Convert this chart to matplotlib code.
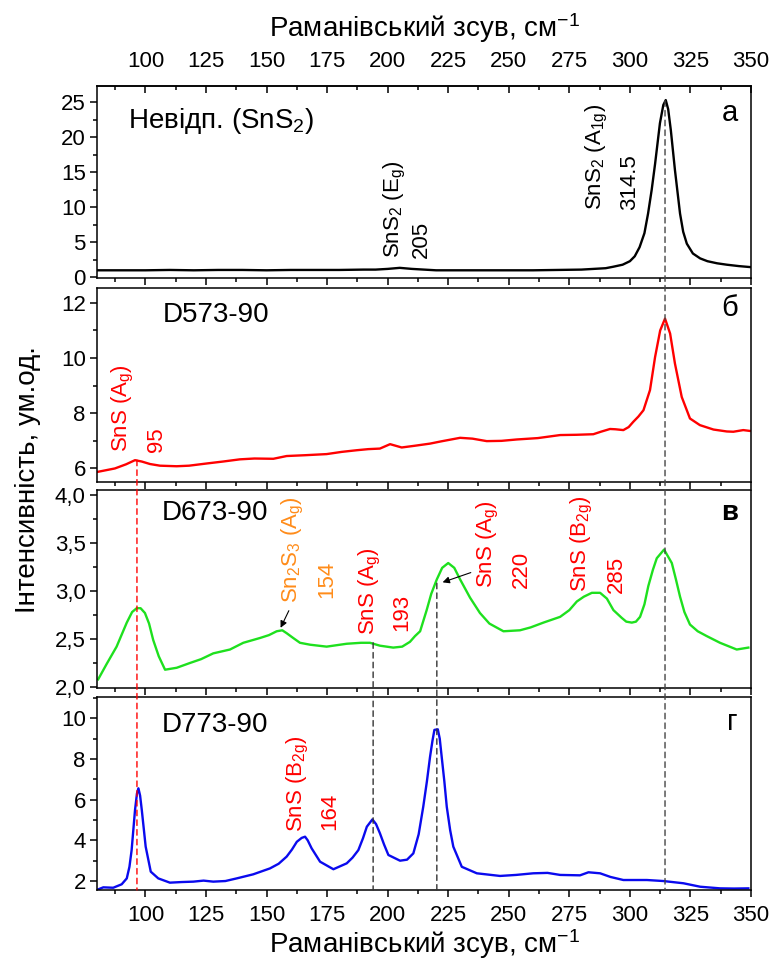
import matplotlib
matplotlib.use('Agg')
import matplotlib.pyplot as plt
from matplotlib.ticker import MultipleLocator, AutoMinorLocator, FuncFormatter
from matplotlib.patches import ConnectionPatch

plt.rcParams['font.family'] = ['Liberation Sans', 'DejaVu Sans']
plt.rcParams['mathtext.fontset'] = 'custom'
plt.rcParams['mathtext.rm'] = 'Liberation Sans'
plt.rcParams['mathtext.default'] = 'regular'

# --- дані ---
# а: невідпалений SnS2
x_a = [80, 90, 100, 110, 120, 130, 140, 150, 160, 170, 180, 190, 195, 200, 205, 210,
       215, 220, 230, 240, 250, 260, 270, 280, 285, 290, 293, 297, 300, 302, 304, 306,
       307.5, 309, 310.4, 312.4, 313.8, 314.8, 315.8, 316.9, 318.6, 320.7, 322, 323.5,
       326, 329, 332, 336, 340, 345, 350]
y_a = [1.0, 1.0, 1.0, 1.05, 1.0, 1.05, 1.05, 1.0, 1.05, 1.05, 1.05, 1.1, 1.1, 1.2, 1.35, 1.2,
       1.1, 1.0, 1.0, 1.0, 1.0, 1.0, 1.05, 1.1, 1.2, 1.3, 1.5, 1.8, 2.3, 3.0, 4.3, 6.3,
       9.1, 12.5, 16.2, 22.0, 24.6, 25.3, 24.0, 21.0, 15.3, 9.1, 6.5, 4.8,
       3.4, 2.7, 2.3, 2.0, 1.8, 1.6, 1.45]

# б: D573-90
x_b = [80.5, 87.4, 92, 95.7, 98.5, 101.9, 106, 112.9, 118, 125.3, 132, 139, 145, 152.8,
       158.3, 166, 174.8, 181, 187.2, 192, 196.8, 201, 205.8, 211, 217.5, 222, 229.9,
       235, 240.9, 247, 253.3, 262, 271.2, 278, 284.9, 288, 291.8, 294, 297.3, 299.5,
       301.4, 303.5, 305.6, 308.3, 310.4, 312.5, 314.5, 316.6, 318.6, 321.4, 324.8,
       328.9, 334.5, 340, 342.7, 346.8, 349.5]
y_b = [5.88, 6.0, 6.15, 6.30, 6.25, 6.16, 6.1, 6.08, 6.1, 6.18, 6.25, 6.33, 6.36, 6.35,
       6.45, 6.48, 6.52, 6.6, 6.66, 6.7, 6.72, 6.88, 6.76, 6.82, 6.9, 6.98, 7.11,
       7.08, 6.99, 7.0, 7.05, 7.1, 7.21, 7.22, 7.24, 7.33, 7.43, 7.42, 7.39, 7.5,
       7.69, 7.88, 8.11, 8.84, 10.04, 11.0, 11.43, 10.89, 9.80, 8.59, 7.81,
       7.57, 7.41, 7.34, 7.33, 7.39, 7.36]

# в: D673-90
x_c = [80.5, 84, 88.1, 92.3, 94.5, 96.4, 98, 99.8, 101.5, 103.2, 105.5, 108.1, 112.9,
       118.4, 123, 128, 134.9, 140.4, 147.3, 151, 154.2, 156.5, 158.3, 161, 163.8, 168,
       174.8, 183.1, 189, 192.7, 196.8, 202.3, 206, 209.2, 211.3, 213.4, 216.1, 218,
       220.3, 222.5, 225.0, 227.5, 229.9, 234, 238.1, 242, 247.8, 254.6, 259, 264.3,
       271.2, 275, 278.1, 281, 284.3, 287.7, 290.5, 293.2, 296.6, 298.5, 300.8, 302.5,
       304.2, 306, 307.6, 309.5, 311.1, 314.1, 317.3, 319, 320.7, 322.5, 324.8, 328,
       331.7, 337.2, 344.1, 346.5, 348.9]
y_c = [2.08, 2.24, 2.42, 2.67, 2.78, 2.82, 2.82, 2.77, 2.66, 2.49, 2.32, 2.18, 2.20,
       2.25, 2.29, 2.35, 2.39, 2.46, 2.51, 2.54, 2.58, 2.59, 2.56, 2.51, 2.46, 2.44,
       2.42, 2.45, 2.46, 2.46, 2.43, 2.41, 2.42, 2.47, 2.53, 2.58, 2.80, 2.97,
       3.12, 3.24, 3.29, 3.24, 3.12, 2.93, 2.77, 2.66, 2.58, 2.59, 2.62, 2.67,
       2.73, 2.80, 2.89, 2.94, 2.98, 2.98, 2.92, 2.80, 2.72, 2.68, 2.67, 2.68,
       2.73, 2.86, 3.05, 3.22, 3.34, 3.43, 3.29, 3.12, 2.94, 2.78, 2.65, 2.58,
       2.53, 2.46, 2.39, 2.40, 2.41]

# г: D773-90
x_d = [80.5, 82.6, 86.7, 90.2, 92.3, 93.4, 94.3, 95.7, 96.5, 97.1, 97.8, 98.5, 100.1,
       102.2, 105.3, 110.1, 115, 119.8, 124, 128, 133, 137.7, 144.5, 151.4, 155,
       158.3, 160.5, 162.5, 164.5, 165.9, 167, 168.6, 172.1, 177.6, 183.1, 185.5,
       187.9, 189.8, 191.4, 193.7, 195.2, 196.8, 198.5, 200.3, 205.1, 208, 210.6,
       212.8, 214.7, 216.2, 217.5, 218.5, 219.3, 220.7, 221.5, 222.3, 223.4, 224.4,
       225.8, 227.1, 230.6, 236.8, 246.4, 253, 260.1, 266, 271.2, 279.4, 282.9, 287.7,
       292, 297.3, 307, 313.8, 322.1, 329, 337.2, 343, 348.9]
y_d = [1.59, 1.69, 1.67, 1.84, 2.13, 2.7, 3.52, 5.49, 6.3, 6.56, 6.2, 5.49, 3.69,
       2.46, 2.13, 1.92, 1.95, 1.97, 2.02, 1.97, 2.0, 2.13, 2.33, 2.62, 2.85,
       3.20, 3.55, 3.93, 4.12, 4.18, 4.0, 3.61, 2.95, 2.58, 2.87, 3.15,
       3.52, 4.1, 4.67, 5.03, 4.8, 4.35, 3.8, 3.28, 3.0, 3.05, 3.36,
       4.3, 5.66, 6.9, 8.11, 8.9, 9.43, 9.46, 9.0, 8.11, 6.9, 5.65,
       4.5, 3.69, 2.70, 2.38, 2.25, 2.3, 2.38, 2.4, 2.30, 2.28, 2.43, 2.38,
       2.2, 2.05, 2.05, 2.0, 1.89, 1.72, 1.64, 1.63, 1.64]

x_ticks = [100, 125, 150, 175, 200, 225, 250, 275, 300, 325, 350]
peak_snS_95 = 96.5
peak_193 = 194.0
peak_220 = 220.3
peak_314 = 314.5

fig = plt.figure(figsize=(7.74, 9.68), dpi=100)
left, width = 0.1253, 0.845
ax1 = fig.add_axes([left, 0.7128, width, 0.1983])
ax2 = fig.add_axes([left, 0.5021, width, 0.2004])
ax3 = fig.add_axes([left, 0.2893, width, 0.2045])
ax4 = fig.add_axes([left, 0.0806, width, 0.1994])
axes = [ax1, ax2, ax3, ax4]

lw = 1.7
ax1.plot(x_a, y_a, color='black', lw=lw)
ax2.plot(x_b, y_b, color='#ff0000', lw=lw)
ax3.plot(x_c, y_c, color='#1ee01e', lw=lw)
ax4.plot(x_d, y_d, color='#0a0aee', lw=lw)

ax1.set_ylim(-0.1, 27.3)
ax2.set_ylim(5.51, 12.54)
ax3.set_ylim(1.99, 4.05)
ax4.set_ylim(1.56, 11.05)

ax1.yaxis.set_major_locator(MultipleLocator(5))
ax1.yaxis.set_minor_locator(MultipleLocator(2.5))
ax2.yaxis.set_major_locator(MultipleLocator(2))
ax2.yaxis.set_minor_locator(MultipleLocator(1))
ax3.yaxis.set_major_locator(MultipleLocator(0.5))
ax3.yaxis.set_minor_locator(MultipleLocator(0.25))
ax3.yaxis.set_major_formatter(FuncFormatter(lambda v, p: f'{v:.1f}'.replace('.', ',')))
ax4.yaxis.set_major_locator(MultipleLocator(2))
ax4.yaxis.set_minor_locator(MultipleLocator(1))

for ax in axes:
    ax.set_xlim(80, 350)
    ax.xaxis.set_major_locator(MultipleLocator(25))
    ax.xaxis.set_minor_locator(AutoMinorLocator(2))
    for s in ax.spines.values():
        s.set_linewidth(1.1)
    ax.tick_params(which='major', direction='out', length=5, width=1.1, labelsize=16, pad=3)
    ax.tick_params(which='minor', direction='out', length=3, width=1.1)
    ax.tick_params(axis='x', labelbottom=False)

ax4.tick_params(axis='x', labelbottom=True, pad=6)
ax4.set_xticks(x_ticks)
ax4.set_xlabel('Раманівський зсув, см$^{-1}$', fontsize=20, labelpad=1)

top = ax1.secondary_xaxis('top')
top.set_xticks(x_ticks)
top.xaxis.set_minor_locator(AutoMinorLocator(2))
top.tick_params(which='major', direction='in', length=5, width=1.1, labelsize=16, pad=10)
top.tick_params(which='minor', direction='in', length=3, width=1.1)
top.spines['top'].set_linewidth(1.1)
top.set_xlabel('Раманівський зсув, см$^{-1}$', fontsize=20, labelpad=10)

fig.text(0.036, 0.505, 'Інтенсивність, ум.од.', rotation=90, fontsize=20,
         ha='center', va='center')

# назви зразків та літери панелей
ax1.text(0.048, 0.82, 'Невідп. (SnS$_2$)', transform=ax1.transAxes, fontsize=20, va='center')
ax2.text(0.101, 0.86, 'D573-90', transform=ax2.transAxes, fontsize=20, va='center')
ax3.text(0.099, 0.884, 'D673-90', transform=ax3.transAxes, fontsize=20, va='center')
ax4.text(0.099, 0.855, 'D773-90', transform=ax4.transAxes, fontsize=20, va='center')
ax1.text(0.968, 0.86, 'а', transform=ax1.transAxes, fontsize=21, ha='center', va='center')
ax2.text(0.968, 0.897, 'б', transform=ax2.transAxes, fontsize=21, ha='center', va='center')
ax3.text(0.968, 0.884, 'в', transform=ax3.transAxes, fontsize=20, ha='center', va='center',
         fontweight='bold')
ax4.text(0.972, 0.87, 'г', transform=ax4.transAxes, fontsize=21, ha='center', va='center')

# підписи мод
fs = 16
red = '#ff0000'
orange = '#ff8c1a'
def vlabel(ax, x, y, s, c):
    ax.text(x, y, s, rotation=90, ha='center', va='bottom', fontsize=fs, color=c)

vlabel(ax1, 203, 2.7, 'SnS$_2$ (E$_g$)', 'black')
vlabel(ax1, 214, 2.7, '205', 'black')
vlabel(ax1, 286.3, 9.6, 'SnS$_2$ (A$_{1g}$)', 'black')
vlabel(ax1, 300, 9.6, '314.5', 'black')
vlabel(ax2, 90.9, 6.6, 'SnS (A$_g$)', red)
vlabel(ax2, 104.6, 6.6, '95', red)
vlabel(ax3, 161, 2.87, 'Sn$_2$S$_3$ (A$_g$)', orange)
vlabel(ax3, 174.8, 2.93, '154', orange)
vlabel(ax3, 192.7, 2.54, 'SnS (A$_g$)', red)
vlabel(ax3, 205.8, 2.58, '193', red)
vlabel(ax3, 241.6, 3.03, 'SnS (A$_g$)', red)
vlabel(ax3, 255.4, 3.03, '220', red)
vlabel(ax3, 280.1, 2.99, 'SnS (B$_{2g}$)', red)
vlabel(ax3, 294.6, 2.98, '285', red)
vlabel(ax4, 163.1, 4.42, 'SnS (B$_{2g}$)', red)
vlabel(ax4, 176.2, 4.5, '164', red)

arrow = dict(arrowstyle='-|>', color='black', lw=0.8, mutation_scale=10)
ax3.annotate('', xy=(155.3, 2.59), xytext=(159.7, 2.82), arrowprops=arrow)
ax3.annotate('', xy=(221.6, 3.08), xytext=(235.4, 3.2), arrowprops=arrow)

# пунктирні лінії через панелі
def dashed(x, axA, yA, color):
    con = ConnectionPatch(xyA=(x, yA), coordsA=axA.transData,
                          xyB=(x, 1.56), coordsB=ax4.transData,
                          color=color, lw=1.0, linestyle=(0, (4, 3)), zorder=5)
    fig.add_artist(con)

dashed(peak_snS_95, ax2, 6.3, red)
dashed(peak_314, ax1, 25.2, '#444444')
dashed(peak_193, ax3, 2.46, '#333333')
dashed(peak_220, ax3, 3.08, '#333333')

plt.savefig('out.png', dpi=100)
plt.close()
